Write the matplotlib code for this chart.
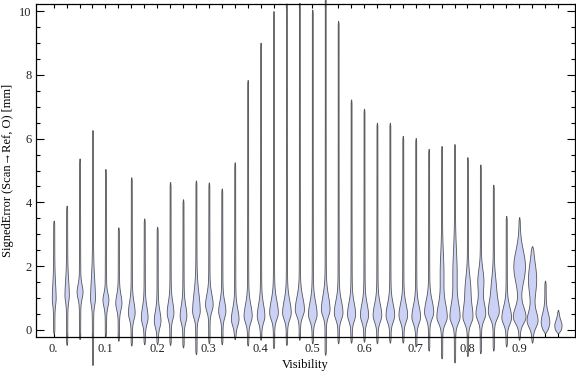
import numpy as np
import matplotlib
matplotlib.use("Agg")
import matplotlib.pyplot as plt
from matplotlib.ticker import MultipleLocator

plt.rcParams['font.family'] = ['Liberation Serif', 'DejaVu Serif']

# ---- data (one violin per visibility bin) ----
bin_labels = ['0.', '0.1', '0.2', '0.3', '0.4', '0.5', '0.6', '0.7', '0.8', '0.9']
err_max = [3.43, 3.90, 5.38, 6.27, 5.05, 3.22, 4.79, 3.50, 3.24, 4.64,
           4.10, 4.69, 4.63, 4.44, 5.26, 7.84, 9.01, 10.0, 10.24, 10.26,
           10.05, 11.0, 9.69, 7.23, 6.94, 6.50, 6.50, 6.09, 6.02, 5.68,
           5.77, 5.83, 5.42, 5.19, 4.56, 3.58, 3.54, 2.63, 1.55, 0.63]
err_min = [-0.12, -0.47, -0.29, -1.10, -0.19, -0.34, -0.49, -0.45, -0.45, -0.47,
           -0.55, -0.76, -0.42, -0.45, -0.29, -0.49, -0.31, -0.57, -0.47, -0.31,
           -0.42, -0.78, -0.42, -0.40, -0.37, -0.42, -0.40, -0.40, -0.52, -0.65,
           -0.89, -1.02, -0.82, -0.73, -0.65, -0.52, -0.31, -0.40, -0.10, -0.10]
# main density bulge: centre (mm), full width (fraction of slot), upper spread (mm)
mode_main = [1.0, 1.1, 1.2, 1.0, 0.95, 0.85, 0.55, 0.40, 0.30, 0.55,
             0.45, 0.60, 0.80, 0.60, 0.35, 0.45, 0.45, 0.55, 0.55, 0.65,
             0.50, 0.65, 0.55, 0.50, 0.47, 0.47, 0.47, 0.47, 0.42, 0.57,
             0.42, 0.42, 0.42, 0.52, 0.57, 0.40, 0.42, 0.30, 0.25, 0.15]
width_main = [0.17, 0.21, 0.33, 0.25, 0.33, 0.35, 0.39, 0.39, 0.39, 0.39,
              0.39, 0.46, 0.46, 0.43, 0.46, 0.50, 0.46, 0.54, 0.54, 0.58,
              0.54, 0.54, 0.54, 0.50, 0.50, 0.54, 0.54, 0.54, 0.54, 0.58,
              0.66, 0.62, 0.62, 0.62, 0.66, 0.62, 0.85, 0.70, 0.54, 0.43]
spread_main = [0.45, 0.45, 0.22, 0.6, 0.2, 0.26, 0.32, 0.32, 0.30, 0.32,
               0.32, 0.55, 0.32, 0.30, 0.32, 0.35, 0.35, 0.38, 0.38, 0.38,
               0.38, 0.42, 0.36, 0.35, 0.35, 0.35, 0.35, 0.35, 0.35, 0.36,
               0.40, 0.40, 0.36, 0.33, 0.33, 0.33, 0.30, 0.28, 0.28, 0.16]
# secondary bulge (only some bins): centre, full width, spread
mode_sec = [0] * 30 + [1.8, 1.8, 1.3, 1.55, 1.3, 0, 2.0, 1.6, 0, 0]
width_sec = [0] * 30 + [0.20, 0.24, 0.33, 0.37, 0.29, 0, 0.81, 0.54, 0, 0]
spread_sec = [0.3] * 30 + [0.6, 0.7, 0.4, 0.35, 0.4, 0.3, 0.5, 0.5, 0.3, 0.3]

fill_col = '#CBD2F5'
edge_col = '#555555'

fig = plt.figure(figsize=(5.76, 3.77), dpi=100)
ax = fig.add_axes([36 / 576, 40 / 377, 539 / 576, 333 / 377])

positions = np.arange(len(err_max))
for p, lo, hi, c, w, s, c2, w2, s2 in zip(positions, err_min, err_max, mode_main,
                                         width_main, spread_main, mode_sec,
                                         width_sec, spread_sec):
    y = np.linspace(lo, hi, 600)
    sig = np.where(y > c, s, 0.2)
    h = 0.5 * w * np.exp(-0.5 * ((y - c) / sig) ** 2)
    if w2 > 0:
        h += 0.5 * w2 * np.exp(-0.5 * ((y - c2) / s2) ** 2)
    h += 0.035 + 0.03 * np.exp(-np.abs(y - c) / 1.5)
    taper = np.clip(np.minimum(y - lo, hi - y) / 0.12, 0, 1) ** 0.5
    h = h * taper
    ax.fill_betweenx(y, p - h, p + h, facecolor=fill_col, edgecolor=edge_col,
                     linewidth=0.6, clip_on=False, zorder=2)

ax.set_xlim(-1.37, 40.32)
ax.set_ylim(-0.22, 10.22)

ax.set_xticks(positions)
xl = [''] * len(positions)
for k, lab in enumerate(bin_labels):
    xl[4 * k] = lab
ax.set_xticklabels(xl)
ax.yaxis.set_major_locator(MultipleLocator(2))
ax.yaxis.set_minor_locator(MultipleLocator(0.5))
ax.tick_params(axis='both', which='both', direction='in', top=True, right=True,
               labelsize=9, colors='black', labelcolor='#222222')
ax.tick_params(axis='y', which='major', length=5.5, width=0.8, pad=3)
ax.tick_params(axis='y', which='minor', length=3, width=0.8)
ax.tick_params(axis='x', which='major', length=3, width=0.8, pad=4)
for sp in ax.spines.values():
    sp.set_linewidth(0.9)
    sp.set_zorder(3)

ax.set_xlabel('Visibility', fontsize=9, labelpad=3)
ax.set_ylabel('SignedError (Scan→Ref, O) [mm]', fontsize=9, labelpad=4)

fig.savefig('out.png', dpi=100)
